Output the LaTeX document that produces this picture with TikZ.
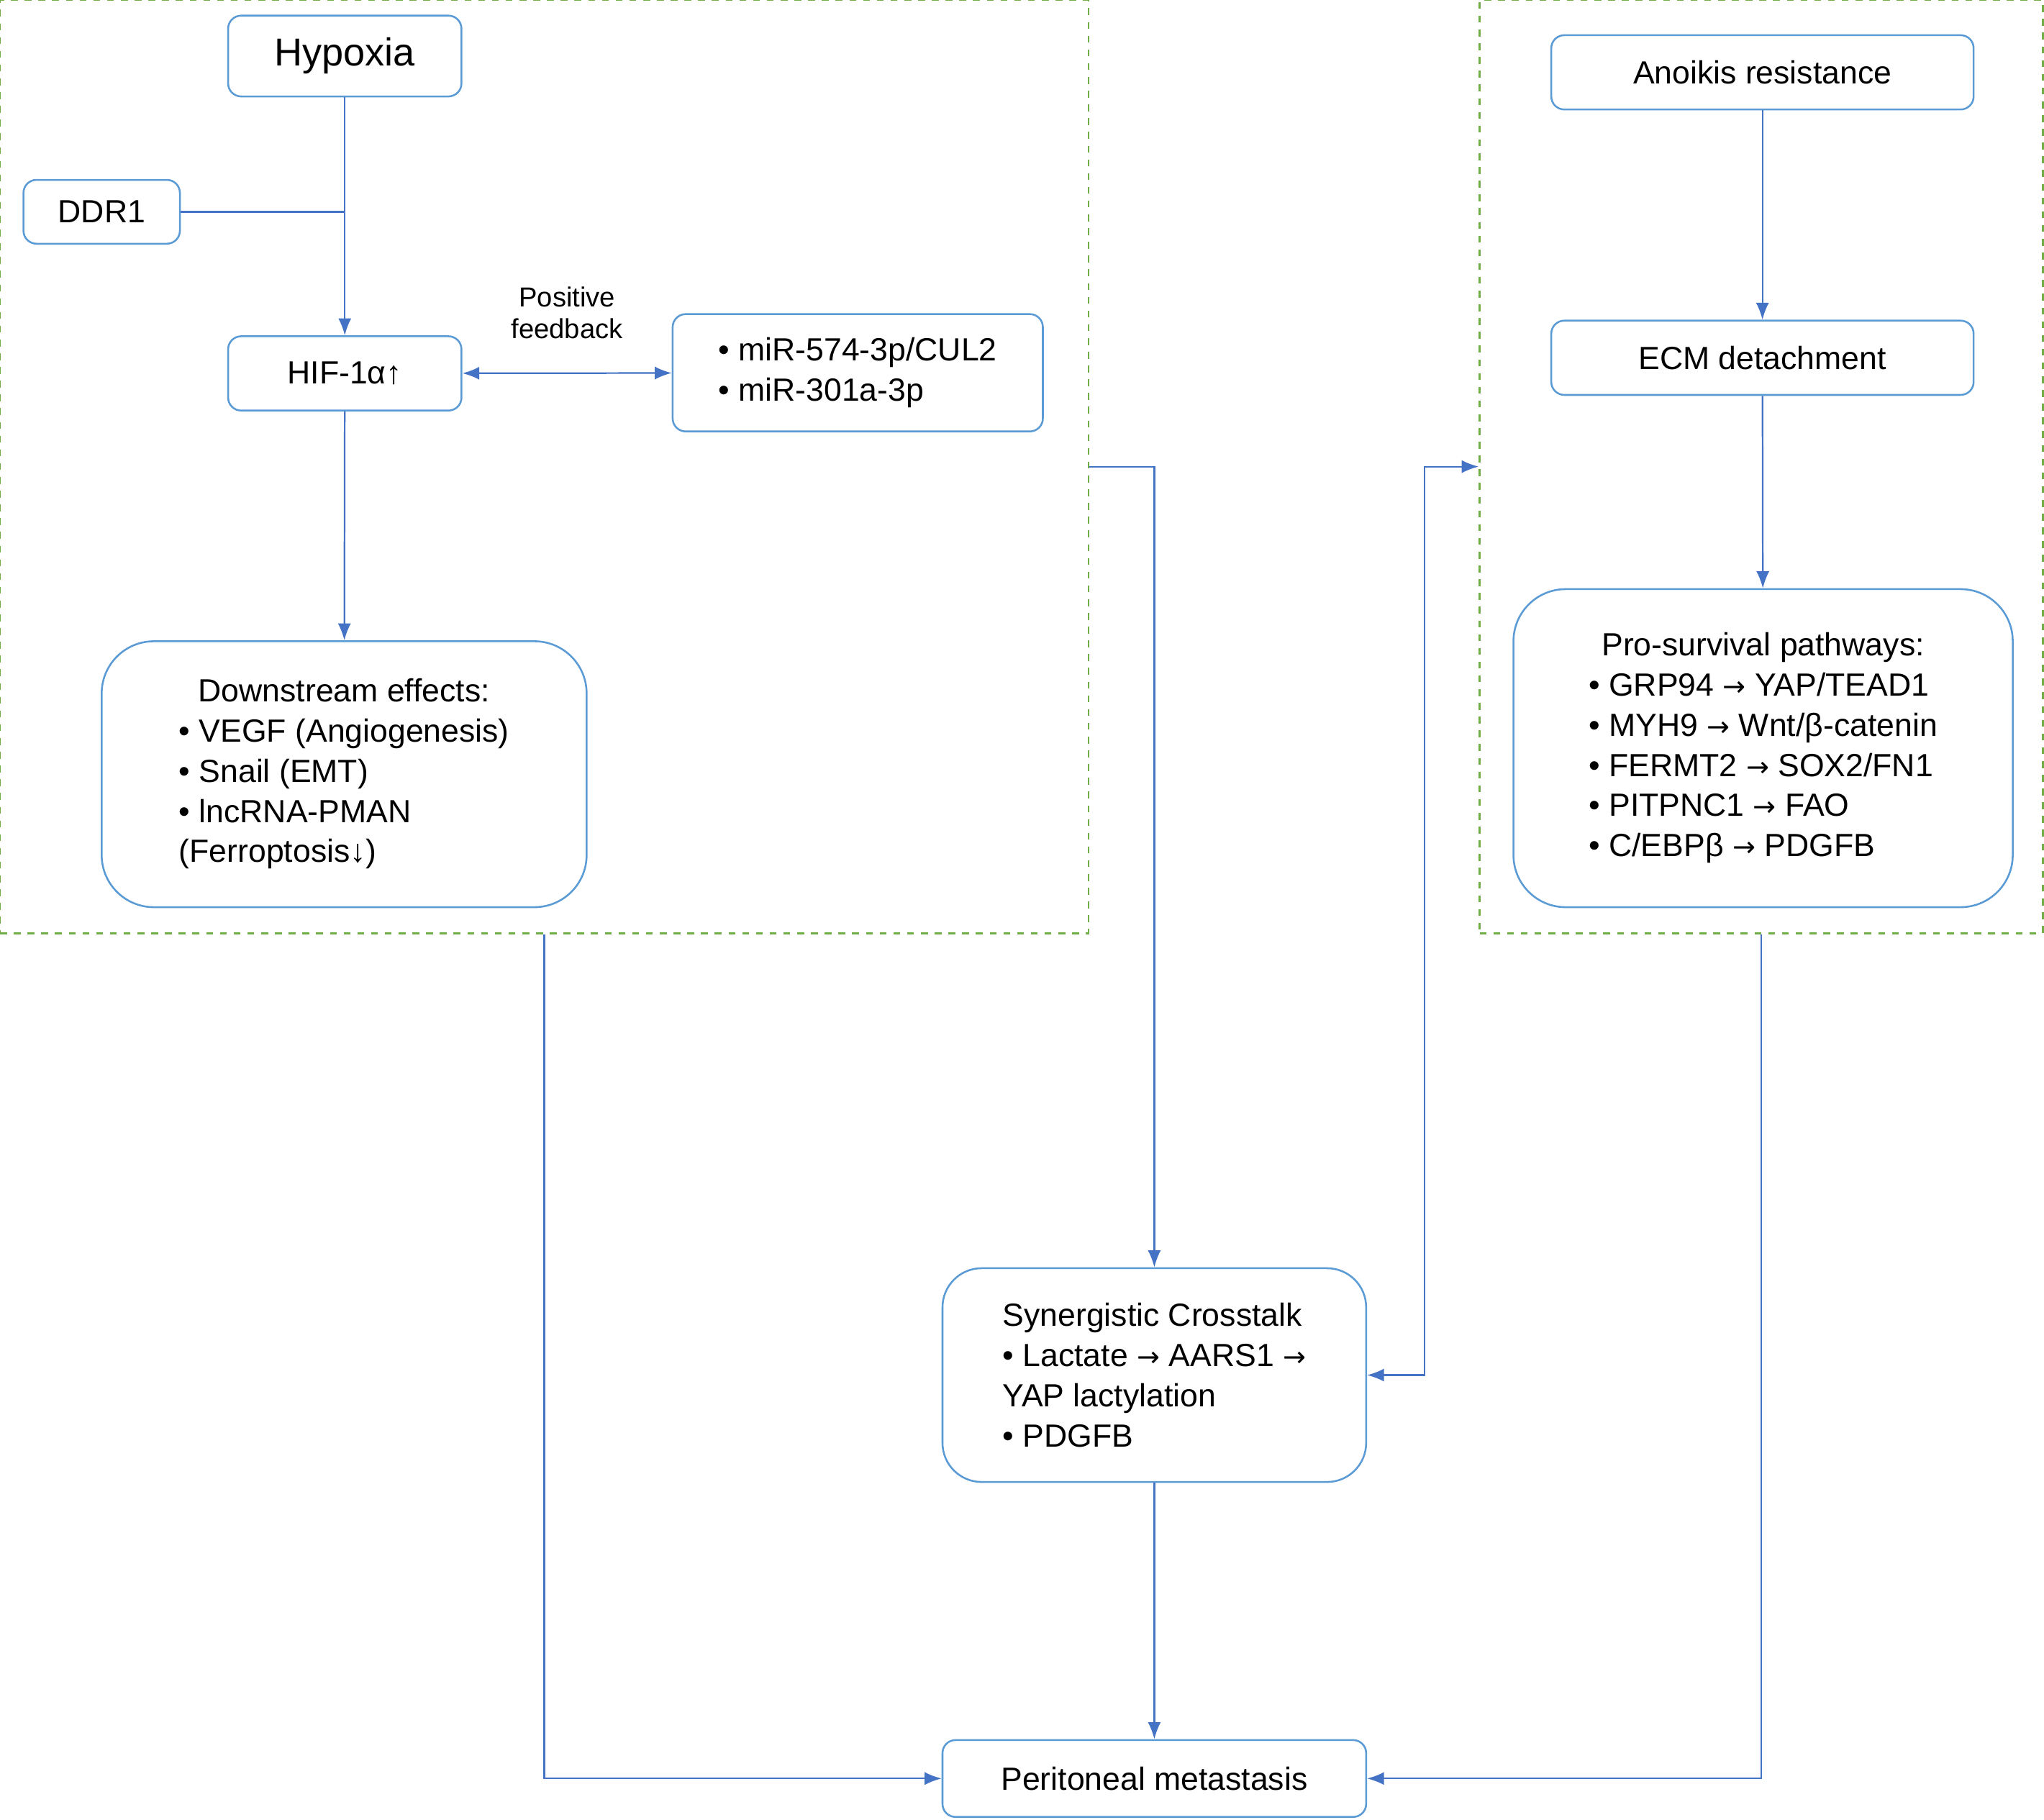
\documentclass[tikz,border=0pt]{standalone}
\usepackage{fontspec}
\setmainfont{Liberation Sans}
\newfontfamily\arrowfont{DejaVu Sans}
\newcommand{\rarr}{{\arrowfont\fontsize{12}{17}\selectfont →}}
\usetikzlibrary{arrows.meta}
\definecolor{linkblue}{HTML}{4472C4}
\definecolor{boxblue}{HTML}{5B9BD5}
\definecolor{grpgreen}{HTML}{70AD47}
\tikzset{
  >={Latex[length=2.6mm,width=2mm]},
  box/.style={draw=boxblue,line width=0.8pt,rounded corners=0.2cm,fill=white,inner sep=0pt,font=\fontsize{14}{17.5}\selectfont},
  bigbox/.style={box,rounded corners=0.8cm},
  grp/.style={draw=grpgreen,dashed,line width=0.8pt,inner sep=0pt},
  link/.style={draw=linkblue,line width=0.7pt,->},
  plain/.style={draw=linkblue,line width=0.7pt},
}
\begin{document}
\begin{tikzpicture}
    \useasboundingbox (0,0) rectangle (31.36,-27.92);
    % groups
    \node[grp,minimum width=16.7cm,minimum height=14.32cm] (leftgrp) at (8.35,-7.16) {};
    \node[grp,minimum width=8.64cm,minimum height=14.32cm] (rightgrp) at (27.02,-7.16) {};
    % hypoxia side
    \node[box,minimum width=3.58cm,minimum height=1.24cm,font=\fontsize{17}{20}\selectfont] (hyp) at (5.29,-0.86) {Hypoxia};
    \node[box,minimum width=2.4cm,minimum height=0.98cm] (ddr) at (1.56,-3.25) {DDR1};
    \node[box,minimum width=3.58cm,minimum height=1.14cm] (hif) at (5.29,-5.73) {HIF-1α↑};
    \node[box,minimum width=5.68cm,minimum height=1.8cm,align=left] (mir) at (13.16,-5.72) {• miR-574-3p/CUL2\\• miR-301a-3p};
    \node[align=center,font=\fontsize{12}{14}\selectfont] (fb) at (8.7,-4.8) {Positive\\feedback};
    \node[bigbox,minimum width=7.44cm,minimum height=4.08cm] (down) at (5.28,-11.88)
      {\begin{tabular}{@{}l@{}}\multicolumn{1}{@{}c@{}}{Downstream effects:}\\• VEGF (Angiogenesis)\\• Snail (EMT)\\• lncRNA-PMAN\\(Ferroptosis↓)\end{tabular}};
    % anoikis side
    \node[box,minimum width=6.48cm,minimum height=1.14cm] (ano) at (27.04,-1.11) {Anoikis resistance};
    \node[box,minimum width=6.48cm,minimum height=1.14cm] (ecm) at (27.04,-5.49) {ECM detachment};
    \node[bigbox,minimum width=7.66cm,minimum height=4.88cm] (pro) at (27.05,-11.48)
      {\begin{tabular}{@{}l@{}}\multicolumn{1}{@{}c@{}}{Pro-survival pathways:}\\• GRP94 \rarr{} YAP/TEAD1\\• MYH9 \rarr{} Wnt/β-catenin\\• FERMT2 \rarr{} SOX2/FN1\\• PITPNC1 \rarr{} FAO\\• C/EBPβ \rarr{} PDGFB\end{tabular}};
    % bottom
    \node[bigbox,rounded corners=0.6cm,minimum width=6.5cm,minimum height=3.28cm,align=left] (syn) at (17.71,-21.1)
      {Synergistic Crosstalk\\• Lactate \rarr{} AARS1 \rarr\\YAP lactylation\\• PDGFB};
    \node[box,minimum width=6.5cm,minimum height=1.18cm] (peri) at (17.71,-27.29) {Peritoneal metastasis};
    % connectors
    \draw[link] (hyp) -- (hif);
    \draw[plain] (ddr.east) -- (ddr.east -| hyp.south);
    \draw[link,<->] (hif) -- (mir);
    \draw[link] (hif) -- (down);
    \draw[link] (ano) -- (ecm);
    \draw[link] (ecm) -- (pro);
    \draw[link] (leftgrp.east) -| (syn.north);
    \draw[link,<->] (syn.east) -- ++(0.88,0) |- (rightgrp.west);
    \draw[link] (leftgrp.south) |- (peri.west);
    \draw[link] (rightgrp.south) |- (peri.east);
    \draw[link] (syn) -- (peri);
\end{tikzpicture}
\end{document}
